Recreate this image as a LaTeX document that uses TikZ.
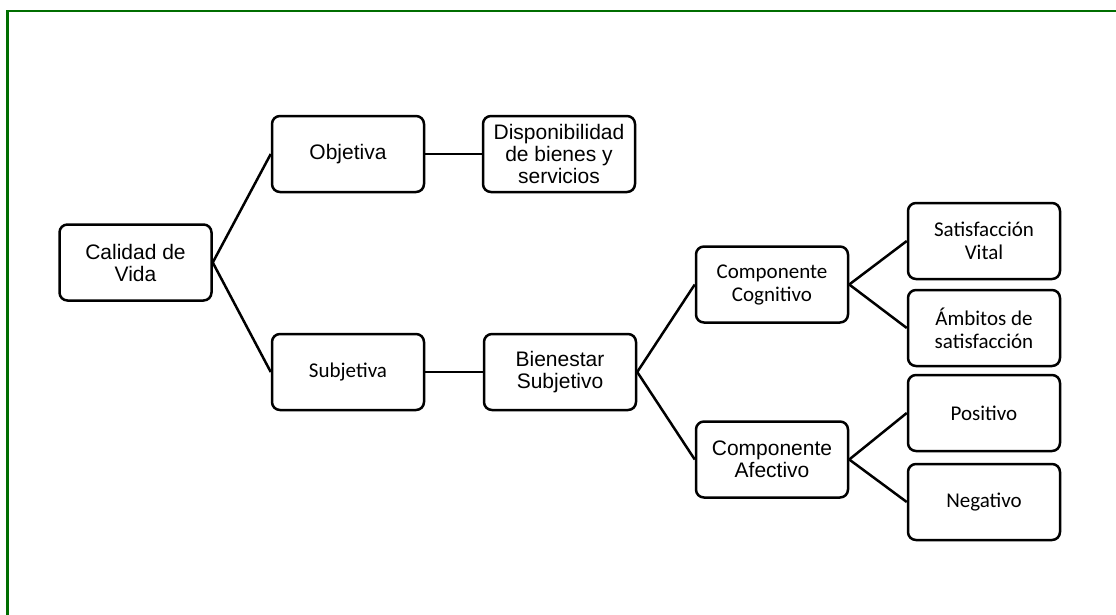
\documentclass[tikz,border=0pt]{standalone}
\usepackage{fontspec}
\setmainfont{Liberation Sans}
\newfontfamily\arialf{Liberation Sans}
\newfontfamily\calibrif{Carlito}
\definecolor{framegreen}{RGB}{0,110,0}
\begin{document}
\begin{tikzpicture}[x=1pt,y=-1pt,
  box/.style={draw=black, line width=2.5pt, rounded corners=8pt,
    minimum width=152pt, minimum height=76pt, inner sep=2pt,
    align=center, font=\fontsize{21}{22}\selectfont},
  abox/.style={box, font=\arialf\fontsize{21}{22}\selectfont},
  cbox/.style={box, font=\calibrif\fontsize{21}{23}\selectfont},
  link/.style={draw=black, line width=2.5pt}]
\useasboundingbox (0,0) rectangle (1116,614);
\draw[framegreen, line width=2.6pt] (7.2,620) -- (7.2,11) -- (1120,11);
\node[abox] (cal) at (135.5,262.5) {Calidad de\\Vida};
\node[abox] (obj) at (348,154) {Objetiva};
\node[abox] (dis) at (559,154) {Disponibilidad\\de bienes y\\servicios};
\node[cbox] (sub) at (348,372) {Subjetiva};
\node[abox] (bie) at (560,372) {Bienestar\\Subjetivo};
\node[cbox] (cog) at (772,284.5) {Componente\\Cognitivo};
\node[abox] (afe) at (772,459.5) {Componente\\Afectivo};
\node[cbox] (sat) at (984,241) {Satisfacción\\Vital};
\node[cbox] (amb) at (984,328) {Ámbitos de\\satisfacción};
\node[cbox] (pos) at (984,413) {Positivo};
\node[cbox] (neg) at (984,502) {Negativo};
\path[link] (cal.east) -- (obj.west);
\path[link] (cal.east) -- (sub.west);
\path[link] (obj.east) -- (dis.west);
\path[link] (sub.east) -- (bie.west);
\path[link] (bie.east) -- (cog.west);
\path[link] (bie.east) -- (afe.west);
\path[link] (cog.east) -- (sat.west);
\path[link] (cog.east) -- (amb.west);
\path[link] (afe.east) -- (pos.west);
\path[link] (afe.east) -- (neg.west);
\end{tikzpicture}
\end{document}
